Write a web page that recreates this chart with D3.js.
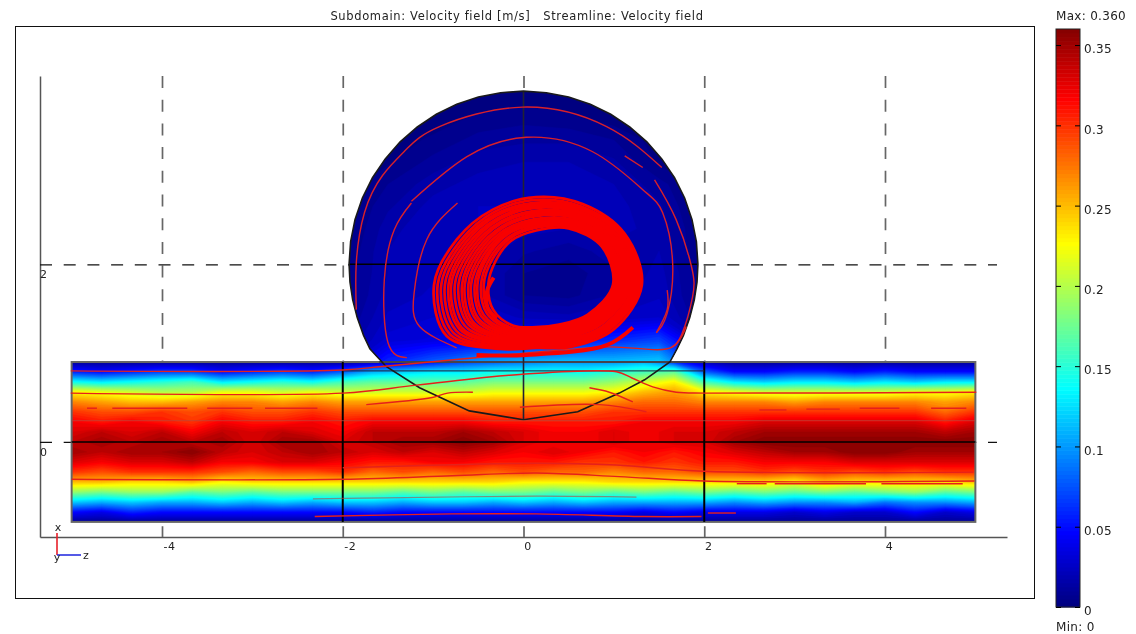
<!DOCTYPE html>
<html>
<head>
<meta charset="utf-8">
<title>Velocity field</title>
<script src="https://cdn.jsdelivr.net/npm/d3@7"></script>
<style>
  html, body { margin: 0; padding: 0; background: #fff; }
  svg { display: block; filter: blur(0.4px); }
  text { font-family: "DejaVu Sans", sans-serif; font-size: 11px; fill: #222; }
</style>
</head>
<body>
<div id="chart-area"></div>
<script>
const chartWidth = 1136;
const chartHeight = 634;

const zTicks = [-4, -2, 0, 2, 4];
const xTicks = [0, 2];
const colorbarTicks = [0, 0.05, 0.1, 0.15, 0.2, 0.25, 0.3, 0.35];
const maxVelocity = 0.36;

// velocity magnitude in the pipe, rows from x=0.9 to x=-0.9, columns from z=-5 to z=5
const pipeVelocity = [
  [.01,.01,.01,.01,.01,.01,.01,.01,.01,.01,.02,.03,.05,.07,.08,.09,.10,.10,.10,.11,.06,.02,.01,.01,.01,.01,.01,.01,.01,.01,.01],
  [.06,.05,.06,.07,.07,.05,.06,.07,.06,.08,.11,.12,.13,.13,.14,.14,.14,.14,.15,.16,.17,.08,.05,.05,.06,.06,.05,.06,.05,.05,.05],
  [.14,.13,.14,.15,.16,.13,.14,.15,.14,.16,.17,.17,.17,.17,.18,.18,.18,.18,.19,.21,.23,.16,.13,.12,.13,.13,.12,.13,.12,.13,.13],
  [.23,.22,.21,.20,.20,.22,.22,.21,.22,.21,.21,.21,.21,.21,.22,.22,.22,.22,.23,.25,.26,.23,.22,.21,.21,.21,.21,.21,.22,.22,.23],
  [.27,.26,.25,.25,.26,.27,.27,.26,.27,.26,.26,.26,.26,.26,.26,.26,.26,.26,.27,.28,.28,.27,.27,.27,.26,.27,.27,.27,.27,.26,.27],
  [.30,.29,.29,.30,.29,.30,.29,.29,.30,.29,.29,.29,.29,.29,.29,.29,.29,.29,.30,.30,.30,.30,.30,.30,.30,.30,.30,.30,.30,.28,.30],
  [.32,.31,.32,.31,.30,.32,.31,.31,.32,.31,.32,.32,.32,.32,.31,.31,.31,.31,.31,.32,.32,.32,.32,.33,.33,.33,.33,.33,.33,.31,.33],
  [.33,.34,.33,.34,.32,.34,.33,.34,.33,.32,.34,.34,.34,.35,.34,.33,.32,.32,.33,.32,.33,.33,.34,.35,.35,.35,.35,.35,.35,.34,.35],
  [.34,.35,.34,.35,.34,.35,.33,.35,.35,.33,.34,.35,.35,.36,.35,.33,.32,.32,.33,.32,.33,.33,.35,.36,.36,.36,.36,.36,.36,.36,.36],
  [.35,.34,.35,.35,.36,.34,.33,.34,.35,.34,.33,.34,.33,.34,.33,.32,.33,.32,.31,.32,.31,.32,.33,.34,.35,.35,.36,.36,.35,.35,.35],
  [.33,.32,.33,.33,.34,.32,.32,.33,.33,.32,.31,.31,.32,.32,.31,.31,.31,.30,.30,.31,.30,.31,.31,.32,.32,.32,.33,.33,.33,.33,.33],
  [.30,.29,.30,.30,.30,.29,.28,.29,.29,.30,.28,.29,.28,.29,.28,.29,.28,.28,.27,.28,.28,.29,.29,.30,.29,.30,.29,.30,.29,.30,.30],
  [.25,.25,.24,.24,.25,.23,.24,.24,.24,.24,.24,.24,.24,.24,.24,.23,.23,.23,.24,.24,.24,.24,.24,.24,.23,.25,.24,.24,.24,.24,.25],
  [.19,.18,.19,.19,.17,.18,.17,.18,.18,.18,.18,.17,.18,.17,.18,.18,.17,.18,.17,.18,.17,.18,.17,.18,.17,.18,.17,.18,.19,.17,.18],
  [.12,.11,.12,.11,.11,.12,.11,.12,.11,.12,.12,.11,.12,.12,.11,.12,.11,.12,.11,.11,.11,.11,.10,.11,.10,.10,.11,.09,.10,.10,.11],
  [.05,.04,.06,.05,.05,.05,.05,.05,.05,.05,.06,.05,.05,.05,.05,.05,.05,.05,.05,.04,.05,.04,.04,.04,.03,.04,.03,.03,.05,.03,.04],
  [.01,.01,.01,.01,.01,.01,.01,.01,.01,.01,.01,.01,.01,.01,.01,.01,.01,.01,.01,.01,.01,.01,.01,.01,.01,.01,.01,.01,.01,.01,.01]
];

// velocity magnitude in the sphere, rows from x=3.9 to x=0.9, columns from z=-2 to z=2
const sphereVelocity = [
  [.002,.002,.002,.002,.002,.002,.002,.002,.002],
  [.002,.002,.002,.006,.008,.006,.002,.002,.002],
  [.002,.002,.006,.012,.014,.014,.010,.002,.002],
  [.002,.004,.012,.018,.020,.020,.016,.004,.002],
  [.002,.010,.018,.022,.024,.024,.020,.012,.002],
  [.002,.014,.022,.025,.025,.025,.022,.016,.002],
  [.002,.018,.024,.025,.022,.020,.022,.018,.004],
  [.004,.020,.024,.024,.016,.012,.018,.020,.004],
  [.006,.020,.024,.022,.010,.007,.014,.022,.006],
  [.006,.022,.026,.022,.010,.008,.016,.024,.006],
  [.008,.026,.030,.030,.024,.022,.026,.030,.008],
  [.012,.032,.036,.040,.044,.050,.060,.070,.020],
  [.020,.060,.080,.100,.110,.115,.115,.120,.050]
];

// sphere outline as [z, x]
const sphereOutline = [
  [-1.93,2],[-1.913,2.255],[-1.864,2.505],[-1.783,2.747],[-1.671,2.975],[-1.53,3.187],[-1.365,3.379],
  [-1.175,3.546],[-0.965,3.689],[-0.739,3.802],[-0.5,3.884],[-0.253,3.932],[0,3.95],
  [0.253,3.932],[0.5,3.884],[0.739,3.802],[0.965,3.689],[1.175,3.546],[1.365,3.379],
  [1.53,3.187],[1.671,2.975],[1.783,2.747],[1.864,2.505],[1.913,2.255],[1.93,2],
  [1.92,1.8],[1.89,1.6],[1.84,1.4],[1.77,1.2],[1.7,1.05],[1.62,0.9],[1.34,0.7],[1.06,0.55],[0.6,0.34],[0,0.25],
  [-0.6,0.35],[-1.15,0.61],[-1.52,0.85],[-1.7,1.05],[-1.77,1.2],[-1.84,1.4],[-1.89,1.6],[-1.92,1.8]
];

// solid edges of the geometry as [z, x]
const meshEdges = [
  [[-2,0.9],[-2,-0.9]],
  [[2,0.9],[2,-0.9]],
  [[-5,0],[5,0]],
  [[-1.93,2],[1.93,2]],
  [[0,3.95],[0,0.25]],
  [[-1.6,0.9],[2,0.9]],
  [[-2,0.8],[2,0.8]]
];

// thin streamlines in the sphere as [z, x]
const sphereStreams = [
  [[-1.85,1.49],[-1.85,2.02],[-1.76,2.58],[-1.56,3.0],[-1.29,3.3],[-0.93,3.55],[-0.01,3.77],[0.92,3.55],[1.53,3.09]],
  [[1.45,2.95],[1.69,2.5],[1.86,1.97],[1.87,1.63],[1.75,1.21],[1.64,1.07]],
  [[-1.29,0.95],[-1.5,1.12],[-1.54,1.83],[-1.43,2.39],[-1.24,2.69]],
  [[-1.24,2.71],[-0.63,3.21],[0.03,3.43],[0.76,3.27],[1.32,2.84],[1.54,2.58],[1.65,2.02],[1.59,1.45],[1.47,1.23]],
  [[-0.73,2.69],[-1.07,2.28],[-1.21,1.68],[-1.15,1.3],[-0.74,1.06]],
  [[1.12,3.22],[1.32,3.09]],
  [[1.59,1.71],[1.59,1.49],[1.47,1.23]]
];

// streamlines through the pipe as [z, x]
const pipeStreams = [
  [[-5.01,0.8],[-2,0.81],[-1.56,0.85],[-0.41,0.96],[0.92,1.07],[1.65,1.07],[1.8,1.3]],
  [[-5.01,0.55],[-2,0.55],[-1.18,0.64],[-0.04,0.76],[1.03,0.79],[1.2,0.72],[1.43,0.62],[1.69,0.56],[2,0.55],[5.01,0.56]],
  [[-2,-0.29],[0.14,-0.24],[1.03,-0.26],[2,-0.33],[4.98,-0.34]],
  [[-5,-0.42],[-2,-0.42],[-0.79,-0.38],[0.14,-0.35],[1.06,-0.39],[2,-0.44],[4.99,-0.44]],
  [[-1.74,0.42],[-1.01,0.5],[-0.84,0.55],[-0.56,0.56]],
  [[0.73,0.61],[0.95,0.56],[1.21,0.45]],
  [[-0.04,0.39],[0.84,0.42],[1.36,0.34]],
  [[-2.31,-0.84],[-0.79,-0.81],[0.14,-0.81],[1.32,-0.84],[1.97,-0.84]],
  [[2.04,-0.8],[2.35,-0.8]],
  [[-4.83,0.38],[-4.72,0.38]],
  [[-4.55,0.38],[-3.72,0.38]],
  [[-3.5,0.38],[-3.0,0.38]],
  [[-2.86,0.38],[-2.28,0.38]],
  [[2.61,0.36],[2.91,0.36]],
  [[3.13,0.37],[3.5,0.37]],
  [[3.72,0.38],[4.16,0.38]],
  [[4.51,0.38],[4.9,0.38]],
  [[2.36,-0.47],[2.69,-0.47]],
  [[2.78,-0.47],[3.79,-0.47]],
  [[3.96,-0.47],[4.86,-0.47]]
];
const fadedStreams = [
  [[-5,0.24],[5,0.24]],
  [[-2.33,-0.64],[-1.52,-0.63],[0.14,-0.61],[1.25,-0.62]]
];

// the tight swirl, radius at each angle (degrees, 0 = up, clockwise) for every turn
const swirlCenter = [0.14, 1.77];
const swirlAngles = [90, 60, 30, 0, 330, 300, 270, 240, 210, 180, 150, 120];
const swirlTurns = [
  [1.17,1.13,1.03,.97,.96,1.01,1.13,1.14,.82,.70,.79,.99],
  [1.15,1.11,1.00,.94,.93,.97,1.09,1.10,.80,.69,.77,.96],
  [1.13,1.09,.98,.91,.90,.94,1.05,1.06,.79,.68,.75,.94],
  [1.11,1.08,.96,.89,.88,.91,1.01,1.02,.77,.67,.73,.92],
  [1.09,1.06,.94,.87,.85,.88,.97,.98,.75,.65,.71,.90],
  [1.07,1.04,.92,.85,.83,.85,.94,.95,.74,.64,.70,.88],
  [1.05,1.02,.90,.82,.80,.82,.90,.91,.72,.62,.68,.85],
  [1.03,1.00,.88,.80,.78,.79,.86,.87,.70,.61,.66,.83],
  [1.01,.98,.86,.78,.75,.76,.82,.84,.68,.59,.64,.81],
  [.99,.97,.85,.76,.73,.73,.79,.81,.67,.58,.63,.79],
  [.97,.95,.83,.73,.70,.70,.75,.77,.65,.56,.61,.77],
  [.95,.93,.81,.71,.68,.67,.72,.74,.63,.55,.60,.76],
  [.93,.91,.79,.69,.66,.64,.68,.70,.61,.53,.58,.74],
  [.91,.90,.78,.67,.64,.62,.65,.67,.59,.52,.56,.72],
  [.89,.88,.76,.65,.61,.59,.61,.63,.57,.50,.55,.70],
  [.87,.86,.74,.63,.59,.56,.58,.60,.55,.49,.53,.68],
  [.85,.84,.72,.60,.56,.52,.53,.55,.52,.47,.51,.66]
];
const swirlEnds = [
  [[-0.33,1.85],[-0.4,1.71],[-0.4,1.52],[-0.3,1.39]],
  [[-0.52,0.98],[0.03,0.98],[0.92,1.09],[1.21,1.29]]
];

// ---- scales ----

const zScale = d3.scaleLinear().domain([-5.35, 5.35]).range([40, 1007]);
const xScale = d3.scaleLinear().domain([-1.07, 4.12]).range([537, 76]);
const barScale = d3.scaleLinear().domain([0, maxVelocity]).range([607, 29]);
const radiusScale = d3.scaleLinear().domain([0, 1]).range([0, zScale(1) - zScale(0)]);

// jet colour map
const jet = d3.scaleLinear()
  .domain([0, 0.125, 0.375, 0.625, 0.875, 1].map(d => d * maxVelocity))
  .range(["#000080", "#0000ff", "#00ffff", "#ffff00", "#ff0000", "#800000"])
  .clamp(true);

const thresholds = d3.range(0, maxVelocity, maxVelocity / 72);

const svg = d3.select("#chart-area").append("svg")
  .attr("width", chartWidth)
  .attr("height", chartHeight);

const line = d3.line().x(d => zScale(d[0])).y(d => xScale(d[1]));
const curve = d3.line().x(d => zScale(d[0])).y(d => xScale(d[1])).curve(d3.curveCatmullRom);
const smooth = d3.line().x(d => zScale(d[0])).y(d => xScale(d[1])).curve(d3.curveNatural);

svg.append("defs").append("clipPath").attr("id", "sphere-clip")
  .append("path").attr("d", line(sphereOutline) + "Z");
svg.select("defs").append("clipPath").attr("id", "pipe-clip")
  .append("rect")
  .attr("x", zScale(-5)).attr("y", xScale(0.9))
  .attr("width", zScale(5) - zScale(-5)).attr("height", xScale(-0.9) - xScale(0.9));

// plot frame
svg.append("rect")
  .attr("x", 15.5).attr("y", 26.5).attr("width", 1019).attr("height", 572)
  .attr("fill", "none").attr("stroke", "#111");

// axes with their dashed grid
const zAxis = svg.append("g")
  .attr("transform", `translate(0, ${xScale(-1.07)})`)
  .call(d3.axisBottom(zScale).tickValues(zTicks).tickFormat(String).tickSize(-461).tickPadding(5).tickSizeOuter(0));
zAxis.selectAll("text").attr("dx", d => d < 0 ? 7 : 4).style("letter-spacing", "0.5px");
zAxis.selectAll(".tick line")
  .attr("stroke", "#666").attr("stroke-width", 1.7)
  .attr("stroke-dasharray", "12 11.7").attr("stroke-dashoffset", 1.3);

const xAxis = svg.append("g")
  .attr("transform", `translate(${zScale(-5.35)}, 0)`)
  .call(d3.axisLeft(xScale).tickValues(xTicks).tickFormat(String).tickSize(-957).tickSizeOuter(0));
xAxis.selectAll("text").attr("x", 7).attr("dy", "1.2em");
xAxis.selectAll(".tick line")
  .attr("stroke", "#111").attr("stroke-width", 1.2).attr("stroke-dasharray", "12 11.7");

svg.selectAll(".domain").attr("stroke", "#555").attr("stroke-width", 1.5);

// filled contours of a velocity grid on [z, x] ranges
function drawField(rows, zRange, xRange, clipId) {
  const nCols = rows[0].length;
  const nRows = rows.length;
  const colToZ = d3.scaleLinear().domain([0.5, nCols - 0.5]).range(zRange);
  const rowToX = d3.scaleLinear().domain([0.5, nRows - 0.5]).range(xRange);
  const path = d3.geoPath(d3.geoTransform({
    point(c, r) { this.stream.point(zScale(colToZ(c)), xScale(rowToX(r))); }
  }));
  const contours = d3.contours().size([nCols, nRows]).thresholds(thresholds)(rows.flat());
  svg.append("g").attr("clip-path", `url(#${clipId})`)
    .selectAll("path").data(contours).enter().append("path")
    .attr("d", path)
    .attr("fill", d => jet(d.value))
    .attr("stroke", d => jet(d.value))
    .attr("stroke-width", 0.4);
}

drawField(sphereVelocity, [-2, 2], [3.9, 0.9], "sphere-clip");
drawField(pipeVelocity, [-5, 5], [0.9, -0.9], "pipe-clip");

// pipe outline
svg.append("rect")
  .attr("x", zScale(-5)).attr("y", xScale(0.9))
  .attr("width", zScale(5) - zScale(-5)).attr("height", xScale(-0.9) - xScale(0.9))
  .attr("fill", "none").attr("stroke", "#666").attr("stroke-width", 2);

// edges
svg.selectAll(".mesh-edge").data(meshEdges).enter().append("path")
  .attr("class", "mesh-edge")
  .attr("d", line)
  .attr("fill", "none")
  .attr("stroke", (d, i) => i >= 4 ? "#223" : "#000")
  .attr("stroke-width", (d, i) => i < 2 ? 2 : (i > 4 ? 1 : 1.6));

svg.append("path")
  .attr("d", line(sphereOutline) + "Z")
  .attr("fill", "none").attr("stroke", "#1a1a1a").attr("stroke-width", 1.6);

// streamlines
svg.selectAll(".faded").data(fadedStreams).enter().append("path")
  .attr("class", "faded")
  .attr("d", curve)
  .attr("fill", "none").attr("stroke", "#b8483c").attr("stroke-width", 1.2).attr("stroke-opacity", 0.6);

svg.selectAll(".pipe-stream").data(pipeStreams).enter().append("path")
  .attr("class", "pipe-stream")
  .attr("d", curve)
  .attr("fill", "none").attr("stroke", "#e6201a").attr("stroke-width", 1.4);

svg.selectAll(".sphere-stream").data(sphereStreams).enter().append("path")
  .attr("class", "sphere-stream")
  .attr("d", smooth)
  .attr("fill", "none").attr("stroke", "#d8202a").attr("stroke-width", 1.4);

const radial = d3.lineRadial()
  .angle((d, i) => swirlAngles[i] * Math.PI / 180)
  .radius(d => radiusScale(d))
  .curve(d3.curveCatmullRomClosed);

svg.append("g")
  .attr("transform", `translate(${zScale(swirlCenter[0])}, ${xScale(swirlCenter[1])})`)
  .selectAll("path").data(swirlTurns).enter().append("path")
  .attr("d", radial)
  .attr("fill", "none").attr("stroke", "#f80000").attr("stroke-width", 2.7);

svg.selectAll(".swirl-end").data(swirlEnds).enter().append("path")
  .attr("class", "swirl-end")
  .attr("d", curve)
  .attr("fill", "none").attr("stroke", "#f80000").attr("stroke-width", 4);

// axis triad
const triad = svg.append("g");
triad.append("line").attr("x1", 57).attr("y1", 555).attr("x2", 57).attr("y2", 533).attr("stroke", "#e8202a").attr("stroke-width", 1.6);
triad.append("line").attr("x1", 57).attr("y1", 555).attr("x2", 81).attr("y2", 555).attr("stroke", "#2a30e0").attr("stroke-width", 1.6);
triad.append("text").attr("x", 58).attr("y", 531).attr("text-anchor", "middle").text("x");
triad.append("text").attr("x", 57).attr("y", 561).attr("text-anchor", "middle").text("y");
triad.append("text").attr("x", 86).attr("y", 559).attr("text-anchor", "middle").text("z");

// title
svg.append("text")
  .attr("x", 517).attr("y", 19.5)
  .attr("text-anchor", "middle")
  .style("font-size", "11.5px")
  .style("letter-spacing", "0.65px")
  .text("Subdomain: Velocity field [m/s]\u00a0\u00a0\u00a0Streamline: Velocity field");

// colour bar
const barLeft = 1056;
const barWidth = 24;
const barSteps = d3.range(0, maxVelocity, maxVelocity / 144);

svg.append("g").selectAll("rect").data(barSteps).enter().append("rect")
  .attr("x", barLeft)
  .attr("y", d => barScale(d + maxVelocity / 144))
  .attr("width", barWidth)
  .attr("height", d => barScale(d) - barScale(d + maxVelocity / 144) + 0.5)
  .attr("fill", d => jet(d));

svg.append("rect")
  .attr("x", barLeft).attr("y", barScale(maxVelocity))
  .attr("width", barWidth).attr("height", barScale(0) - barScale(maxVelocity))
  .attr("fill", "none").attr("stroke", "#222");

const barAxisRight = svg.append("g")
  .attr("transform", `translate(${barLeft + barWidth}, 0)`)
  .call(d3.axisRight(barScale).tickValues(colorbarTicks).tickFormat(String).tickSize(-5).tickPadding(4).tickSizeOuter(0));
barAxisRight.select(".domain").remove();
barAxisRight.selectAll("text").attr("dy", "0.65em").style("font-size", "12px").style("letter-spacing", "0.3px");

const barAxisLeft = svg.append("g")
  .attr("transform", `translate(${barLeft}, 0)`)
  .call(d3.axisLeft(barScale).tickValues(colorbarTicks).tickFormat("").tickSize(-5).tickSizeOuter(0));
barAxisLeft.select(".domain").remove();

svg.append("text").attr("x", 1056).attr("y", 20).style("font-size", "12px").style("letter-spacing", "0.3px").text("Max: 0.360");
svg.append("text").attr("x", 1056).attr("y", 631).style("font-size", "12px").style("letter-spacing", "0.3px").text("Min: 0");
</script>
</body>
</html>
